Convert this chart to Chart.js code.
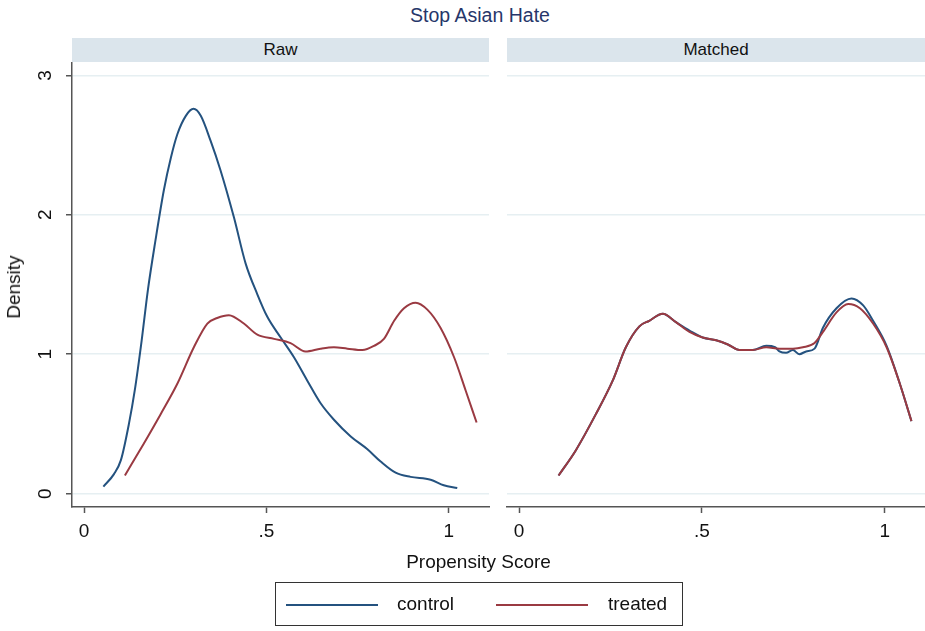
<!DOCTYPE html>
<html>
<head>
<meta charset="utf-8">
<script src="https://cdn.jsdelivr.net/npm/chart.js@4/dist/chart.umd.min.js"></script>
<style>
  body { margin: 0; background: #fff; font-family: "Liberation Sans", Arial, sans-serif; }
  #wrap { position: relative; width: 925px; height: 631px; overflow: hidden; background: #fff; }
  #wrap canvas { position: absolute; left: 0; top: 0; }
  .txt { position: absolute; white-space: nowrap; }
  .strip { position: absolute; background: #dbe5ec; height: 24px; top: 38px; font-size: 17px; line-height: 24px; text-align: center; color: #111; }
  #title { left: 0; width: 960px; top: 4px; text-align: center; font-size: 19.5px; color: #26366a; }
  #xtitle { left: 0; width: 957px; top: 551px; text-align: center; font-size: 19px; color: #111; }
  #ytitle { left: 14px; top: 287px; font-size: 19px; color: #111; transform: translate(-50%, -50%) rotate(-90deg); }
  #legend { position: absolute; left: 275px; top: 582px; width: 408px; height: 44px; border: 1px solid #333; box-sizing: border-box; }
  .lgline { position: absolute; top: 21px; height: 2px; width: 92px; }
  .lgtxt { position: absolute; top: 10px; font-size: 19px; color: #111; }
</style>
</head>
<body>
<div id="wrap">
  <div id="title" class="txt">Stop Asian Hate</div>
  <div class="strip" style="left:72px; width:417px;">Raw</div>
  <div class="strip" style="left:507px; width:418px;">Matched</div>
  <canvas id="c1" width="925" height="631"></canvas>
  <canvas id="c2" width="925" height="631"></canvas>
  <div id="ytitle" class="txt">Density</div>
  <div id="xtitle" class="txt">Propensity Score</div>
  <div id="legend">
    <div class="lgline" style="left:10px; background:#24527f;"></div>
    <div class="lgtxt" style="left:121px;">control</div>
    <div class="lgline" style="left:220px; background:#9a3a42;"></div>
    <div class="lgtxt" style="left:332px;">treated</div>
  </div>
</div>
<script>
const xTicks = [0, 0.5, 1];
const xTickLabels = ['0', '.5', '1'];
const yTicks = [0, 1, 2, 3];
const yTickLabels = ['0', '1', '2', '3'];

const rawControlX = [0.053, 0.082, 0.101, 0.123, 0.139, 0.158, 0.175, 0.196, 0.219, 0.238, 0.256, 0.279, 0.300, 0.320, 0.347, 0.374, 0.411, 0.443, 0.475, 0.502, 0.539, 0.575, 0.612, 0.648, 0.685, 0.731, 0.776, 0.813, 0.854, 0.895, 0.950, 0.986, 1.023];
const rawControlY = [0.05, 0.14, 0.24, 0.50, 0.74, 1.10, 1.46, 1.82, 2.18, 2.41, 2.58, 2.71, 2.76, 2.71, 2.53, 2.32, 1.98, 1.65, 1.43, 1.27, 1.12, 0.98, 0.81, 0.65, 0.53, 0.41, 0.32, 0.23, 0.15, 0.12, 0.10, 0.06, 0.04];

const rawTreatedX = [0.112, 0.164, 0.210, 0.256, 0.301, 0.338, 0.365, 0.397, 0.438, 0.475, 0.521, 0.566, 0.607, 0.648, 0.685, 0.722, 0.763, 0.795, 0.822, 0.850, 0.877, 0.909, 0.941, 0.977, 1.014, 1.046, 1.076];
const rawTreatedY = [0.13, 0.36, 0.57, 0.79, 1.05, 1.22, 1.26, 1.28, 1.22, 1.14, 1.11, 1.08, 1.02, 1.04, 1.05, 1.04, 1.03, 1.06, 1.11, 1.24, 1.33, 1.37, 1.32, 1.19, 0.98, 0.74, 0.51];

const matchedTreatedX = [0.108, 0.155, 0.210, 0.256, 0.292, 0.329, 0.356, 0.393, 0.429, 0.466, 0.502, 0.539, 0.571, 0.603, 0.639, 0.676, 0.712, 0.749, 0.776, 0.808, 0.831, 0.868, 0.900, 0.932, 0.968, 1.005, 1.041, 1.073];
const matchedTreatedY = [0.13, 0.31, 0.57, 0.81, 1.05, 1.20, 1.24, 1.29, 1.23, 1.16, 1.12, 1.10, 1.07, 1.03, 1.03, 1.05, 1.04, 1.04, 1.05, 1.08, 1.16, 1.30, 1.36, 1.33, 1.22, 1.05, 0.79, 0.52];

const matchedControlX = [0.108, 0.155, 0.210, 0.256, 0.292, 0.329, 0.356, 0.393, 0.429, 0.466, 0.502, 0.539, 0.571, 0.603, 0.639, 0.676, 0.700, 0.712, 0.730, 0.749, 0.766, 0.785, 0.808, 0.831, 0.868, 0.909, 0.941, 0.968, 1.005, 1.041, 1.073];
const matchedControlY = [0.13, 0.31, 0.57, 0.81, 1.05, 1.20, 1.24, 1.29, 1.23, 1.17, 1.12, 1.10, 1.07, 1.03, 1.03, 1.06, 1.05, 1.02, 1.01, 1.03, 1.00, 1.02, 1.04, 1.19, 1.33, 1.40, 1.35, 1.24, 1.06, 0.79, 0.52];

const CONTROL = '#24527f';
const TREATED = '#9a3a42';
const FONT = '"Liberation Sans", Arial, sans-serif';

function pts(xs, ys) {
  return xs.map((x, i) => ({ x: x, y: ys[i] }));
}

function lineSet(label, xs, ys, color, order) {
  return {
    label: label,
    data: pts(xs, ys),
    borderColor: color,
    borderWidth: 2,
    pointRadius: 0,
    cubicInterpolationMode: 'monotone',
    fill: false,
    order: order
  };
}

// rotated y tick labels, like Stata
const rotatedYLabels = {
  id: 'rotatedYLabels',
  afterDraw(chart, args, opts) {
    if (!opts.show) return;
    const ctx = chart.ctx;
    const y = chart.scales.y;
    ctx.save();
    ctx.fillStyle = '#111';
    ctx.font = '19px ' + FONT;
    ctx.textAlign = 'center';
    ctx.textBaseline = 'middle';
    yTicks.forEach((v, i) => {
      ctx.save();
      ctx.translate(46, y.getPixelForValue(v));
      ctx.rotate(-Math.PI / 2);
      ctx.fillText(yTickLabels[i], 0, 0);
      ctx.restore();
    });
    ctx.restore();
  }
};

function makePanel(id, datasets, left, right, withYAxis) {
  return new Chart(document.getElementById(id), {
    type: 'line',
    data: { datasets: datasets },
    plugins: [rotatedYLabels],
    options: {
      responsive: false,
      animation: false,
      layout: { padding: { left: withYAxis ? 0 : left, right: 925 - right, top: 63, bottom: 0 } },
      plugins: {
        legend: { display: false },
        tooltip: { enabled: false },
        rotatedYLabels: { show: withYAxis }
      },
      scales: {
        x: {
          type: 'linear',
          min: -0.033,
          max: 1.11,
          afterBuildTicks: (s) => { s.ticks = xTicks.map(v => ({ value: v })); },
          afterFit: (s) => { s.height = 631 - 507; },
          grid: { drawOnChartArea: false, drawTicks: true, tickLength: 6, tickColor: '#555', tickWidth: 1.5 },
          border: { display: true, color: '#555', width: 1.5 },
          ticks: {
            padding: 7,
            color: '#111',
            font: { family: FONT, size: 19 },
            maxRotation: 0,
            callback: (v) => { const i = xTicks.indexOf(v); return i >= 0 ? xTickLabels[i] : ''; }
          }
        },
        y: {
          type: 'linear',
          min: -0.096,
          max: 3.089,
          afterBuildTicks: (s) => { s.ticks = yTicks.map(v => ({ value: v })); },
          afterFit: (s) => { s.width = withYAxis ? left : 0; },
          grid: { color: '#e6eff2', lineWidth: 1.5, drawTicks: withYAxis, tickLength: 6, tickColor: '#555', tickWidth: 1.5 },
          border: { display: withYAxis, color: '#555', width: 1.5 },
          ticks: { display: false }
        }
      }
    }
  });
}

makePanel('c1', [
  lineSet('control', rawControlX, rawControlY, CONTROL, 1),
  lineSet('treated', rawTreatedX, rawTreatedY, TREATED, 0)
], 72, 489, true);

makePanel('c2', [
  lineSet('control', matchedControlX, matchedControlY, CONTROL, 1),
  lineSet('treated', matchedTreatedX, matchedTreatedY, TREATED, 0)
], 507, 925, false);
</script>
</body>
</html>
